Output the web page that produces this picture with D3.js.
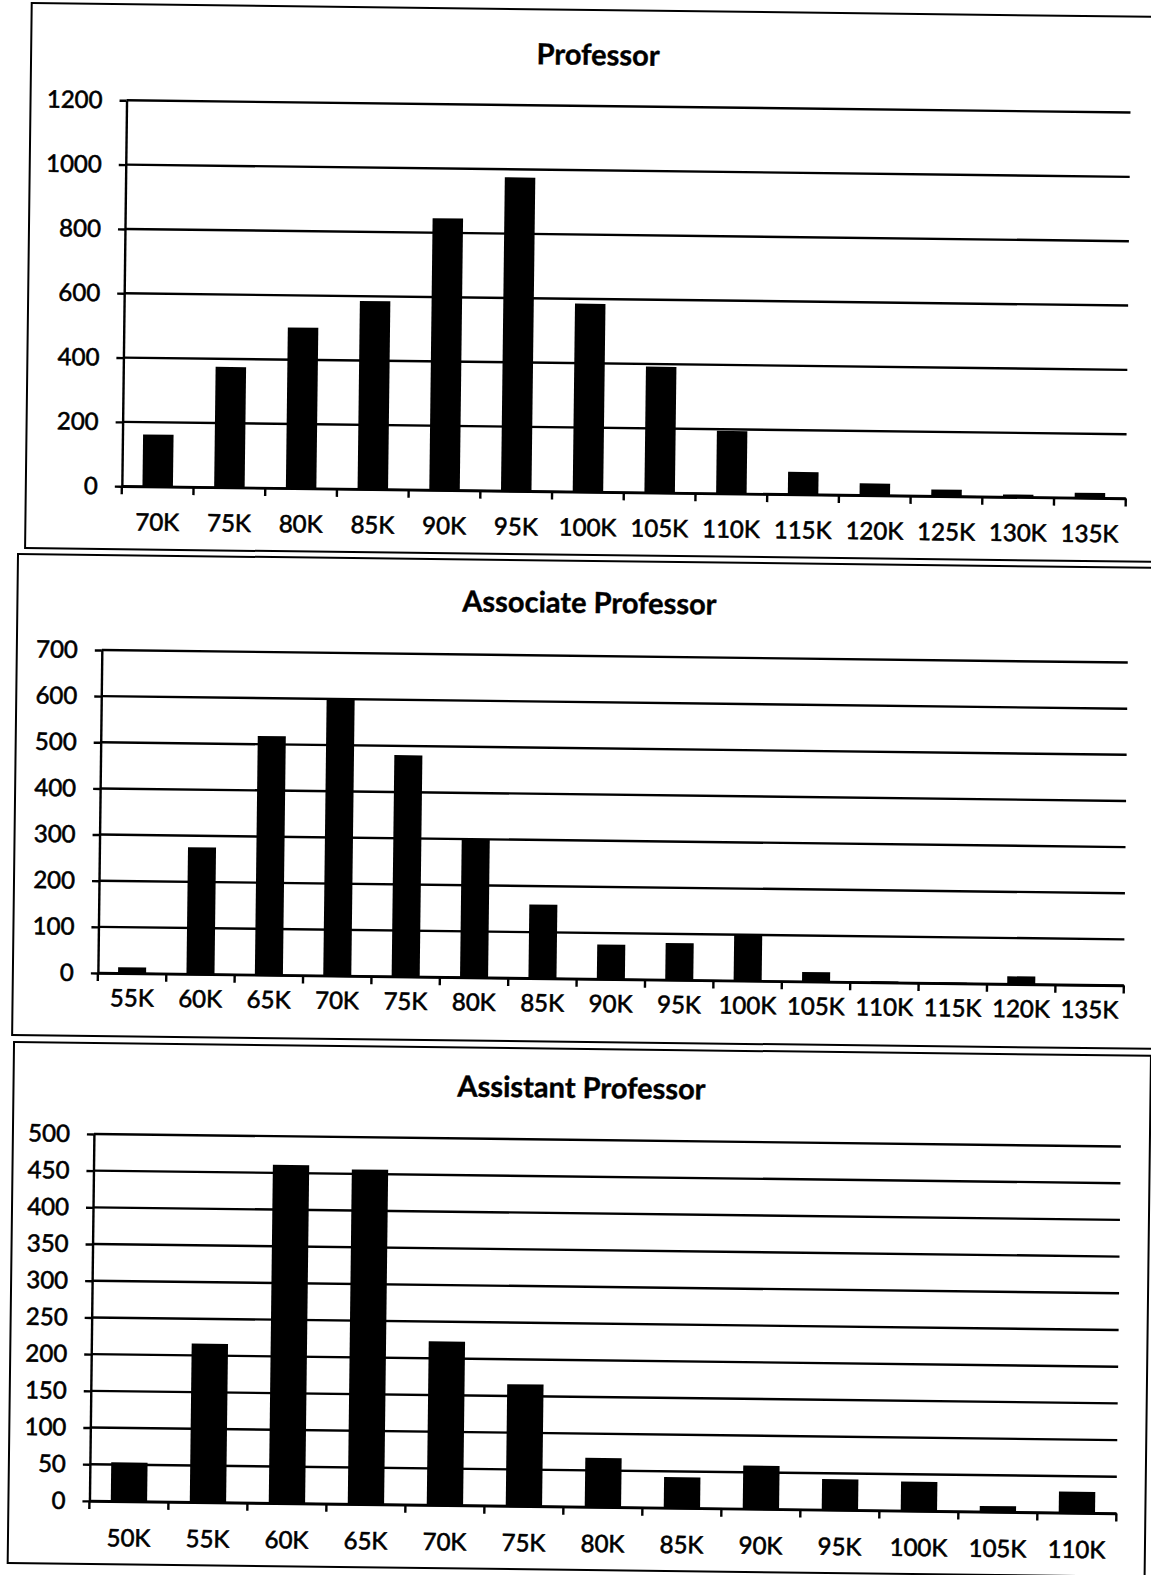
<!DOCTYPE html>
<html><head><meta charset="utf-8">
<script src="https://cdn.jsdelivr.net/npm/d3@7"></script>
<style>
body{margin:0;background:#fff}
svg{display:block}
text{font-family:Lato,"Open Sans",sans-serif;fill:#000}
</style>
</head><body>
<svg id="c" width="1151" height="1575"></svg>
<script>
// ---------- data ----------
const profCategories = ["70K","75K","80K","85K","90K","95K","100K","105K","110K","115K","120K","125K","130K","135K"];
const profValues     = [162, 375, 500, 585, 845, 975, 585, 392, 195, 70, 37, 21, 8, 16];
const profTicks      = [0, 200, 400, 600, 800, 1000, 1200];

const assocCategories = ["55K","60K","65K","70K","75K","80K","85K","90K","95K","100K","105K","110K","115K","120K","135K"];
const assocValues     = [13, 275, 518, 600, 480, 300, 160, 75, 80, 100, 21, 3, 2, 17, 0];
const assocTicks      = [0, 100, 200, 300, 400, 500, 600, 700];

const asstCategories = ["50K","55K","60K","65K","70K","75K","80K","85K","90K","95K","100K","105K","110K"];
const asstValues     = [53, 216, 461, 456, 223, 166, 67, 42, 59, 42, 40, 8, 29];
const asstTicks      = [0, 50, 100, 150, 200, 250, 300, 350, 400, 450, 500];

const titles = ["Professor", "Associate Professor", "Assistant Professor"];

// ---------- layout ----------
const panels = [
  {title:titles[0], cats:profCategories, vals:profValues, ticks:profTicks,
   box:[22,4,1150,545], x0:118, x1:1122, yTop:100, yBot:486, titleX:589, titleY:59, labelY:530, pad:0.575},
  {title:titles[1], cats:assocCategories, vals:assocValues, ticks:assocTicks,
   box:[15,555,1150,481], x0:100, x1:1126, yTop:650, yBot:973, titleX:587, titleY:607, labelY:1006, pad:0.59},
  {title:titles[2], cats:asstCategories, vals:asstValues, ticks:asstTicks,
   box:[17,1043,1137,521], x0:98, x1:1125, yTop:1134, yBot:1501, titleX:585, titleY:1092, labelY:1546, pad:0.54}
];

const svg = d3.select("#c");
svg.append("rect").attr("width",1151).attr("height",1575).attr("fill","#fff");
const root = svg.append("g").attr("transform","rotate(0.7,100,800)");

panels.forEach(p => {
  const g = root.append("g");
  g.append("rect").attr("x",p.box[0]).attr("y",p.box[1]).attr("width",p.box[2]).attr("height",p.box[3])
    .attr("fill","none").attr("stroke","#000").attr("stroke-width",2);

  g.append("text").attr("x",p.titleX).attr("y",p.titleY).attr("text-anchor","middle")
    .attr("font-size",29).attr("font-weight","bold")
    .attr("stroke","#000").attr("stroke-width",0.4).text(p.title);

  const y = d3.scaleLinear().domain([0, d3.max(p.ticks)]).range([p.yBot, p.yTop]);
  const x = d3.scaleBand().domain(p.cats).range([p.x0, p.x1]).paddingInner(p.pad).paddingOuter(p.pad/2);

  // gridlines
  g.append("g").selectAll("line").data(p.ticks).join("line")
    .attr("x1",p.x0).attr("x2",p.x1).attr("y1",d=>y(d)).attr("y2",d=>y(d))
    .attr("stroke","#000").attr("stroke-width",2.4);

  // y axis
  const ya = g.append("g").attr("transform",`translate(${p.x0},0)`)
    .call(d3.axisLeft(y).tickValues(p.ticks).tickSizeInner(7).tickSizeOuter(0).tickPadding(17).tickFormat(d3.format("d")));
  ya.select(".domain").attr("stroke","#000").attr("stroke-width",2.4);
  ya.selectAll(".tick line").attr("stroke","#000").attr("stroke-width",2.4);
  ya.selectAll("text").attr("font-size",24).attr("font-family","Lato").attr("fill","#000")
    .attr("stroke","#000").attr("stroke-width",0.6);

  // bars
  g.append("g").selectAll("rect").data(p.vals).join("rect")
    .attr("x",(d,i)=>x(p.cats[i])).attr("width",x.bandwidth())
    .attr("y",d=>y(d)).attr("height",d=>y(0)-y(d)).attr("fill","#000");

  // x axis baseline and labels
  const xa = g.append("g").attr("transform",`translate(0,${p.yBot})`)
    .call(d3.axisBottom(x).tickSize(0).tickSizeOuter(0).tickPadding(p.labelY - p.yBot));
  xa.select(".domain").attr("stroke","#000").attr("stroke-width",2.4);
  xa.selectAll("text").attr("dy",0).attr("font-size",24).attr("font-family","Lato").attr("fill","#000")
    .attr("stroke","#000").attr("stroke-width",0.6);

  // boundary ticks
  const bounds = d3.range(p.cats.length + 1).map(i => p.x0 + i*(p.x1-p.x0)/p.cats.length);
  g.append("g").selectAll("line").data(bounds).join("line")
    .attr("x1",d=>d).attr("x2",d=>d).attr("y1",p.yBot).attr("y2",p.yBot+8)
    .attr("stroke","#000").attr("stroke-width",2.4);
});
</script>
</body></html>
